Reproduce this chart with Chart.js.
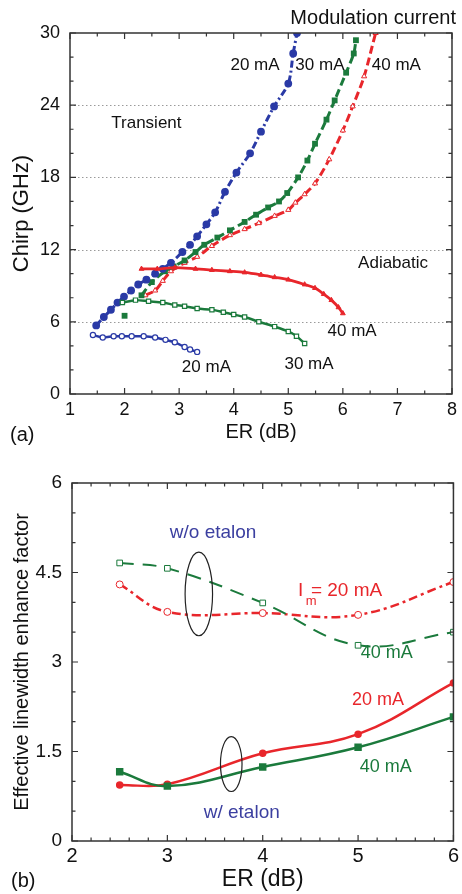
<!DOCTYPE html>
<html>
<head>
<meta charset="utf-8">
<script src="https://cdn.jsdelivr.net/npm/chart.js@4.4.1/dist/chart.umd.min.js"></script>
<style>
  html, body { margin: 0; padding: 0; background: #fff; }
  body { width: 462px; height: 894px; position: relative; overflow: hidden;
         font-family: 'Liberation Sans', Arial, sans-serif; color: #111; }
  .box { position: absolute; left: 0; width: 462px; }
  #boxA { top: 0; height: 445px; }
  #boxB { top: 445px; height: 449px; }
  .lbl { position: absolute; font-size: 20px; line-height: 24px; white-space: nowrap; }
</style>
</head>
<body>
<div class="box" id="boxA"><canvas id="chirp"></canvas></div>
<div class="box" id="boxB"><canvas id="alpha"></canvas></div>
<div class="lbl" style="right:6px; top:5px;">Modulation current</div>
<div class="lbl" style="left:10px; top:422px;">(a)</div>
<div class="lbl" style="left:11px; top:868px;">(b)</div>
<script>
// ===== PANEL (a) DATA: chirp (GHz) vs ER (dB) =====
const t20ER    = [1.48, 1.62, 1.75, 1.87, 1.99, 2.12, 2.25, 2.4, 2.56, 2.7, 2.85, 3.06, 3.2, 3.33, 3.5, 3.66, 3.84, 4.05, 4.3, 4.5, 4.74, 5.0, 5.09, 5.16];
const t20Chirp = [5.7, 6.4, 7.0, 7.6, 8.1, 8.6, 9.1, 9.5, 10.0, 10.4, 10.9, 11.8, 12.4, 13.1, 14.1, 15.1, 16.8, 18.4, 20.0, 21.8, 23.9, 25.8, 28.3, 30];
const t30ER    = [2.0, 2.31, 2.5, 2.74, 2.9, 3.1, 3.3, 3.46, 3.7, 3.93, 4.2, 4.41, 4.63, 4.83, 4.98, 5.18, 5.35, 5.49, 5.7, 5.85, 6.06, 6.2, 6.24];
const t30Chirp = [6.5, 8.2, 9.3, 10.2, 10.6, 11.1, 11.8, 12.4, 13.0, 13.6, 14.3, 14.9, 15.5, 16.0, 16.7, 18.0, 19.4, 20.8, 22.8, 24.4, 26.7, 28.3, 29.4];
const t40ER    = [2.38, 2.56, 2.7, 2.85, 3.1, 3.33, 3.6, 3.93, 4.2, 4.46, 4.75, 5.0, 5.13, 5.3, 5.49, 5.75, 6.0, 6.18, 6.39, 6.6];
const t40Chirp = [8.2, 8.6, 9.4, 10.2, 10.9, 11.4, 12.3, 13.2, 13.7, 14.2, 14.8, 15.3, 15.9, 16.6, 17.5, 19.5, 21.9, 23.9, 26.4, 30];

const a20ER    = [1.42, 1.6, 1.8, 1.95, 2.13, 2.35, 2.56, 2.75, 2.92, 3.1, 3.2, 3.33];
const a20Chirp = [4.9, 4.7, 4.8, 4.8, 4.8, 4.8, 4.7, 4.5, 4.3, 3.9, 3.7, 3.5];
const a30ER    = [1.96, 2.2, 2.44, 2.7, 2.92, 3.1, 3.33, 3.6, 3.81, 4.0, 4.2, 4.46, 4.75, 5.0, 5.15, 5.3];
const a30Chirp = [7.6, 7.8, 7.7, 7.6, 7.4, 7.3, 7.1, 7.0, 6.8, 6.6, 6.4, 6.0, 5.6, 5.2, 4.8, 4.2];
const a40ER    = [2.31, 2.6, 2.92, 3.3, 3.6, 3.93, 4.2, 4.5, 4.75, 5.0, 5.3, 5.49, 5.65, 5.79, 5.92, 6.0];
const a40Chirp = [10.4, 10.4, 10.5, 10.4, 10.3, 10.2, 10.1, 9.9, 9.7, 9.5, 9.1, 8.8, 8.3, 7.8, 7.2, 6.7];

// ===== PANEL (b) DATA: effective linewidth enhancement factor vs ER =====
const bER         = [2.5, 3, 4, 5, 6];
const noEtalon20  = [4.30, 3.84, 3.82, 3.79, 4.34];
const noEtalon40  = [4.66, 4.57, 3.99, 3.28, 3.50];
const etalon20    = [0.94, 0.95, 1.47, 1.79, 2.65];
const etalon40    = [1.16, 0.92, 1.24, 1.57, 2.08];

const BLUE = '#2a3aa6', GREEN = '#1b7a3c', RED = '#e8262b', INK = '#111';
const FONT = "'Liberation Sans', Arial, sans-serif";
Chart.defaults.font.family = FONT;
Chart.defaults.color = INK;

const pts = (xs, ys) => xs.map((x, i) => ({ x, y: ys[i] }));

// ===== FRAME / TICKS / NOTES PLUGIN =====
const paper = {
  id: 'paper',
  beforeDatasetsDraw(chart, args, o) {
    const { ctx, chartArea: a, scales: { y } } = chart;
    ctx.save();
    ctx.strokeStyle = '#9a9a9a';
    ctx.lineWidth = 1;
    ctx.setLineDash([1.5, 2.5]);
    (o.grid || []).forEach(v => {
      const py = Math.round(y.getPixelForValue(v)) + 0.5;
      ctx.beginPath(); ctx.moveTo(a.left, py); ctx.lineTo(a.right, py); ctx.stroke();
    });
    ctx.restore();
  },
  afterDatasetsDraw(chart, args, o) {
    const { ctx, chartArea: a, scales: { x, y } } = chart;
    ctx.save();
    // ellipses
    ctx.strokeStyle = '#222';
    ctx.lineWidth = 1.2;
    (o.rings || []).forEach(r => {
      const cx = x.getPixelForValue(r.x), cy = y.getPixelForValue(r.y);
      const rx = Math.abs(x.getPixelForValue(r.x + r.rx) - cx);
      const ry = Math.abs(y.getPixelForValue(r.y + r.ry) - cy);
      ctx.beginPath(); ctx.ellipse(cx, cy, rx, ry, 0, 0, Math.PI * 2); ctx.stroke();
    });
    // frame
    ctx.strokeStyle = '#333';
    ctx.lineWidth = 1.5;
    ctx.strokeRect(a.left, a.top, a.width, a.height);
    // inward ticks
    ctx.lineWidth = 1.2;
    const eps = 1e-6;
    for (let v = x.min; v <= x.max + eps; v += o.xMinor) {
      const major = Math.abs(v / o.xMajor - Math.round(v / o.xMajor)) < 1e-4;
      const len = major ? 6 : 3.5, px = x.getPixelForValue(v);
      ctx.beginPath();
      ctx.moveTo(px, a.bottom); ctx.lineTo(px, a.bottom - len);
      ctx.moveTo(px, a.top); ctx.lineTo(px, a.top + len);
      ctx.stroke();
    }
    for (let v = y.min; v <= y.max + eps; v += o.yMinor) {
      const major = Math.abs(v / o.yMajor - Math.round(v / o.yMajor)) < 1e-4;
      const len = major ? 6 : 3.5, py = y.getPixelForValue(v);
      ctx.beginPath();
      ctx.moveTo(a.left, py); ctx.lineTo(a.left + len, py);
      ctx.moveTo(a.right, py); ctx.lineTo(a.right - len, py);
      ctx.stroke();
    }
    // text notes
    (o.notes || []).forEach(n => {
      ctx.font = `${n.size}px ${FONT}`;
      ctx.fillStyle = n.color || INK;
      ctx.textAlign = n.align || 'center';
      ctx.textBaseline = 'middle';
      ctx.fillText(n.text, x.getPixelForValue(n.x), y.getPixelForValue(n.y));
    });
    ctx.restore();
  }
};

// first green transient point stands alone (no joining segment)
const skipFirst = { borderColor: c => c.p0DataIndex === 0 ? 'rgba(0,0,0,0)' : undefined };

// ===== PANEL (a) =====
new Chart(document.getElementById('chirp'), {
  type: 'scatter',
  data: {
    datasets: [
      { data: pts(a20ER, a20Chirp), borderColor: BLUE, borderWidth: 2.5, pointStyle: 'circle', pointRadius: 2.6,
        pointBackgroundColor: '#fff', pointBorderColor: BLUE, pointBorderWidth: 1.2 },
      { data: pts(a30ER, a30Chirp), borderColor: GREEN, borderWidth: 2.5, pointStyle: 'rect', pointRadius: 3,
        pointBackgroundColor: '#fff', pointBorderColor: GREEN, pointBorderWidth: 1.2 },
      { data: pts(a40ER, a40Chirp), borderColor: RED, borderWidth: 2.8, pointStyle: 'triangle', pointRadius: 2.8,
        pointBackgroundColor: RED, pointBorderColor: RED, pointBorderWidth: 1 },
      { data: pts(t20ER, t20Chirp), borderColor: BLUE, borderWidth: 3, borderDash: [7, 3, 2, 3], pointStyle: 'circle',
        pointRadius: 2.4, pointBackgroundColor: BLUE, pointBorderColor: BLUE },
      { data: pts(t30ER, t30Chirp), borderColor: GREEN, borderWidth: 3, borderDash: [8, 4], pointStyle: 'rect',
        pointRadius: 2, pointBackgroundColor: GREEN, pointBorderColor: GREEN, segment: skipFirst },
      { data: pts(t40ER, t40Chirp), borderColor: RED, borderWidth: 3, borderDash: [8, 4], pointStyle: 'triangle',
        pointRadius: 3, pointBackgroundColor: '#fff', pointBorderColor: RED, pointBorderWidth: 1 }
    ].map(d => ({ ...d, showLine: true, tension: 0.3 }))
  },
  options: {
    responsive: true,
    maintainAspectRatio: false,
    animation: false,
    layout: { autoPadding: false, padding: { top: 33, right: 2, left: 0, bottom: 0 } },
    scales: {
      x: {
        type: 'linear', min: 1, max: 8,
        afterFit: s => { s.height = 51; },
        grid: { display: false, drawTicks: false },
        border: { display: false },
        ticks: { stepSize: 1, padding: 5, maxRotation: 0, font: { size: 18 }, color: INK },
        title: { display: true, text: 'ER (dB)', font: { size: 20 }, color: INK, padding: { top: 0, bottom: 1 } }
      },
      y: {
        type: 'linear', min: 0, max: 30,
        afterFit: s => { s.width = 70; },
        grid: { display: false, drawTicks: false },
        border: { display: false },
        ticks: { stepSize: 6, padding: 10, font: { size: 18 }, color: INK },
        title: { display: true, text: 'Chirp (GHz)', font: { size: 22 }, color: INK, padding: { top: 9, bottom: 0 } }
      }
    },
    plugins: {
      legend: { display: false },
      tooltip: { enabled: false },
      paper: {
        grid: [6, 12, 18, 24],
        xMajor: 1, xMinor: 0.5, yMajor: 6, yMinor: 2,
        notes: [
          { text: '20 mA', x: 4.39, y: 27.3, size: 17 },
          { text: '30 mA', x: 5.58, y: 27.3, size: 17 },
          { text: '40 mA', x: 6.98, y: 27.3, size: 17 },
          { text: 'Transient', x: 2.40, y: 22.5, size: 17 },
          { text: 'Adiabatic', x: 6.92, y: 10.9, size: 17 },
          { text: '40 mA', x: 6.17, y: 5.2, size: 17 },
          { text: '30 mA', x: 5.38, y: 2.5, size: 17 },
          { text: '20 mA', x: 3.50, y: 2.2, size: 17 }
        ]
      }
    }
  },
  plugins: [paper]
});

// ===== PANEL (b) =====
new Chart(document.getElementById('alpha'), {
  type: 'scatter',
  data: {
    datasets: [
      { data: pts(bER, noEtalon40), borderColor: GREEN, borderWidth: 2, borderDash: [14, 9], pointStyle: 'rect',
        pointRadius: 4, pointBackgroundColor: '#fff', pointBorderColor: GREEN, pointBorderWidth: 1 },
      { data: pts(bER, noEtalon20), borderColor: RED, borderWidth: 2.5, borderDash: [9, 4, 3, 4], pointStyle: 'circle',
        pointRadius: 3.5, pointBackgroundColor: '#fff', pointBorderColor: RED, pointBorderWidth: 1 },
      { data: pts(bER, etalon40), borderColor: GREEN, borderWidth: 2.5, pointStyle: 'rect',
        pointRadius: 3.5, pointBackgroundColor: GREEN, pointBorderColor: GREEN },
      { data: pts(bER, etalon20), borderColor: RED, borderWidth: 2.5, pointStyle: 'circle',
        pointRadius: 2.5, pointBackgroundColor: RED, pointBorderColor: RED }
    ].map(d => ({ ...d, showLine: true, tension: 0.4 }))
  },
  options: {
    responsive: true,
    maintainAspectRatio: false,
    animation: false,
    layout: { autoPadding: false, padding: { top: 38, right: 2, left: 0, bottom: 0 } },
    scales: {
      x: {
        type: 'linear', min: 2, max: 6,
        afterFit: s => { s.height = 53; },
        grid: { display: false, drawTicks: false },
        border: { display: false },
        ticks: { stepSize: 1, padding: 3, maxRotation: 0, font: { size: 20 }, color: INK },
        title: { display: true, text: 'ER (dB)', font: { size: 23 }, color: INK, padding: { top: 0, bottom: 1 } }
      },
      y: {
        type: 'linear', min: 0, max: 6,
        afterFit: s => { s.width = 72; },
        grid: { display: false, drawTicks: false },
        border: { display: false },
        ticks: { stepSize: 1.5, padding: 10, font: { size: 19 }, color: INK },
        title: { display: true, text: 'Effective linewidth enhance factor', font: { size: 20 }, color: INK,
                 padding: { top: 10, bottom: 0 } }
      }
    },
    plugins: {
      legend: { display: false },
      tooltip: { enabled: false },
      paper: {
        xMajor: 1, xMinor: 0.2, yMajor: 1.5, yMinor: 0.5,
        rings: [
          { x: 3.33, y: 4.14, rx: 0.144, ry: 0.70 },
          { x: 3.67, y: 1.29, rx: 0.113, ry: 0.46 }
        ],
        notes: [
          { text: 'w/o etalon', x: 3.48, y: 5.16, size: 19, color: '#3b3fa0' },
          { text: 'I', x: 4.37, y: 4.20, size: 19, color: RED, align: 'left' },
          { text: 'm', x: 4.45, y: 4.02, size: 13, color: RED, align: 'left' },
          { text: '= 20 mA', x: 4.505, y: 4.20, size: 19, color: RED, align: 'left' },
          { text: '40 mA', x: 5.30, y: 3.15, size: 18, color: GREEN },
          { text: '20 mA', x: 5.21, y: 2.36, size: 18, color: RED },
          { text: '40 mA', x: 5.29, y: 1.24, size: 18, color: GREEN },
          { text: 'w/ etalon', x: 3.78, y: 0.47, size: 19, color: '#3b3fa0' }
        ]
      }
    }
  },
  plugins: [paper]
});
</script>
</body>
</html>
